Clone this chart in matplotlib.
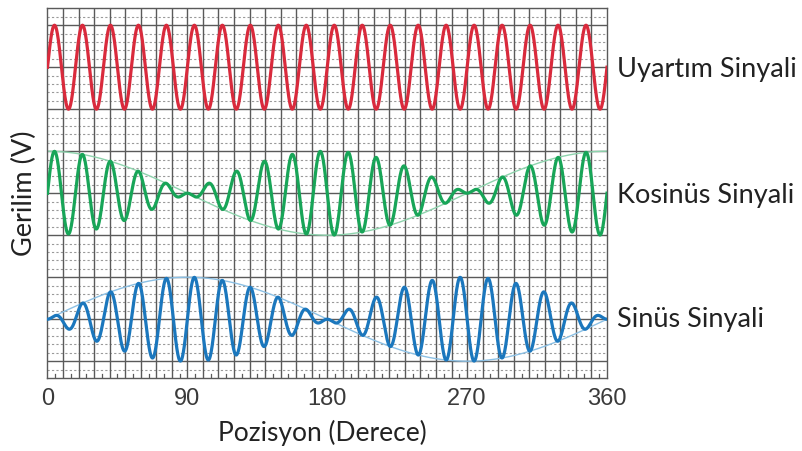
import numpy as np
import matplotlib
matplotlib.use("Agg")
import matplotlib.pyplot as plt

# ---- data ----
position_deg = np.linspace(0, 360, 2881)          # rotor position, degrees
carrier_cycles = 20                                # excitation cycles over 360°
amplitude = 5                                      # signal amplitude (grid units)
baseline_excitation = 37
baseline_cosine = 22
baseline_sine = 7
x_ticks = [0, 90, 180, 270, 360]
x_tick_labels = ["0", "90", "180", "270", "360"]
signal_names = ["Uyartım Sinyali", "Kosinüs Sinyali", "Sinüs Sinyali"]

theta = np.deg2rad(position_deg)
carrier = np.sin(carrier_cycles * theta)
excitation = baseline_excitation + amplitude * carrier
cosine_sig = baseline_cosine + amplitude * np.cos(theta) * carrier
cosine_env = baseline_cosine + amplitude * np.cos(theta)
sine_sig = baseline_sine + amplitude * np.sin(theta) * carrier
sine_env = baseline_sine + amplitude * np.sin(theta)

W, H = 803, 451
fig = plt.figure(figsize=(W / 100, H / 100), dpi=100)
L, R, T, B = 47.5, 607, 7.5, 378
ax = fig.add_axes([L / W, 1 - B / H, (R - L) / W, (B - T) / H])
ax.set_xlim(0, 360)
ax.set_ylim(0, (B - T) / 8.4)

# grid
for y in np.arange(1, 45, 1):
    if (y - 2) % 5 == 0:
        ax.axhline(y, color="#5a5a5a", lw=1.0, zorder=1)
    else:
        ax.axhline(y, color="#9a9a9a", lw=0.8, ls=(0, (2, 2)), zorder=1)
for x in np.arange(10, 360, 10):
    ax.axvline(x, color="#5a5a5a", lw=1.0, zorder=1)
for x in np.arange(5, 360, 10):
    ax.plot([x, x], [0, 0.45], color="#5a5a5a", lw=0.9, zorder=1)

# signals
ax.plot(position_deg, cosine_env, color="#8ed3ad", lw=1.0, zorder=2)
ax.plot(position_deg, sine_env, color="#8cc0e4", lw=1.0, zorder=2)
ax.plot(position_deg, excitation, color="#d92a3c", lw=2.3, zorder=3)
ax.plot(position_deg, cosine_sig, color="#18a558", lw=2.3, zorder=3)
ax.plot(position_deg, sine_sig, color="#1b77bd", lw=2.3, zorder=3)

for s in ax.spines.values():
    s.set_color("#5a5a5a")
    s.set_linewidth(1.0)
ax.set_yticks([])
ax.set_xticks(x_ticks)
ax.set_xticklabels(x_tick_labels, fontsize=17, color="#3a3a3a",
                   family="Liberation Sans")
ax.tick_params(axis="x", length=0, pad=7)

fig.text(322 / W, 1 - 433 / H, "Pozisyon (Derece)", ha="center", va="center",
         fontsize=19, family="Lato", color="#222222")
fig.text(24 / W, 1 - 193 / H, "Gerilim (V)", ha="center", va="center",
         rotation=90, fontsize=19.5, family="Lato", color="#222222")
for name, yc in zip(signal_names, [70, 195, 320]):
    fig.text(617 / W, 1 - yc / H, name, ha="left", va="center",
             fontsize=19.5, family="Lato", color="#222222")

fig.savefig("out.png", dpi=100)
